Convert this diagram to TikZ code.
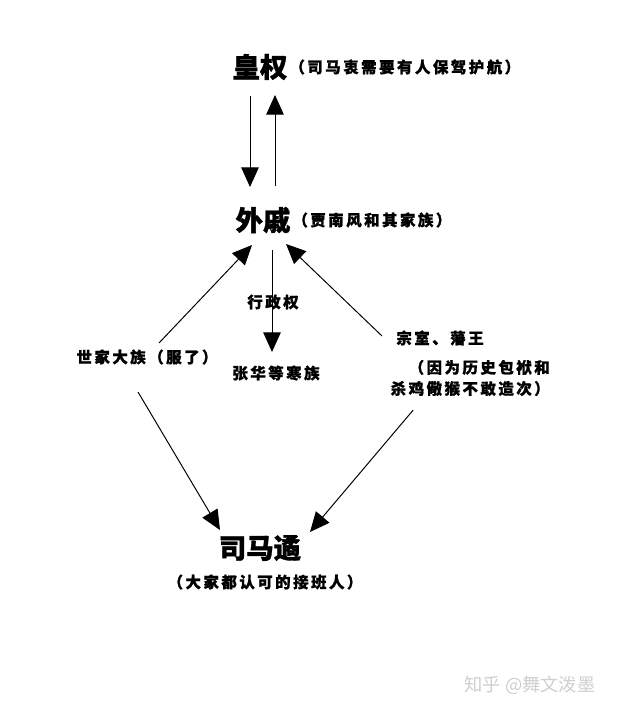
\documentclass[tikz,border=0pt]{standalone}
\usepackage{fontspec}
\setmainfont{Noto Sans CJK SC}[BoldFeatures={FakeBold=1.2}]
\newfontfamily\wide{Noto Sans CJK SC}[LetterSpace=16,BoldFeatures={FakeBold=1}]
\usepackage{tikz}
\usetikzlibrary{positioning,arrows.meta,calc}
\definecolor{wmark}{HTML}{CFCFCF}

\begin{document}
\begin{tikzpicture}[x=0.025cm,y=-0.025cm,every node/.style={inner sep=0pt}]
      \tikzstyle{ttl}=[font=\fontsize{19.5}{23}\selectfont\bfseries];
      \tikzstyle{lbl}=[font=\fontsize{11}{15}\selectfont\wide\bfseries];
      \tikzstyle{arr}=[-{Triangle[length=14pt,width=12.5pt]},line width=0.7pt];
      \fill[white] (0,0) rectangle (617,708);
      \node[ttl] (hq) at (260,67) {皇权};
      \node[lbl,right=1pt of hq] (hqnote) {（司马衷需要有人保驾护航）};
      \node[ttl] (wq) at (263,220) {外戚};
      \node[lbl,right=1pt of wq] (wqnote) {（贾南风和其家族）};
      \node[lbl] (xz) at (273,302) {行政权};
      \node[lbl] (hz) at (276,373) {张华等寒族};
      \node[lbl] (sj) at (147,357) {世家大族（服了）};
      \node[lbl] (zs) at (440,338) {宗室、藩王};
      \node[lbl,align=right,anchor=east] (zsnote) at (550,378)
           {（因为历史包袱和\\杀鸡儆猴不敢造次）};
      \node[ttl] (sm) at (260,548) {司马遹};
      \node[lbl] (smnote) at (265,582) {（大家都认可的接班人）};
      \node[font=\fontsize{13}{15}\selectfont,text=wmark] (wm) at (530,685) {知乎 @舞文泼墨};
      \draw[arr] ($(hq)+(-10,29)$) -- ($(wq)+(-13,-33)$);
      \draw[arr] ($(wq)+(12,-34)$) -- ($(hq)+(15,28)$);
      \draw[arr] ($(sj)+(12,-14)$) -- ($(wq)+(-11,25)$);
      \draw[arr] ($(wq)+(9,30)$) -- ($(hz)+(-4,-21)$);
      \draw[arr] ($(zs)+(-58,-2)$) -- ($(wq)+(23,24)$);
      \draw[arr] ($(sj)+(-9,35)$) -- ($(sm)+(-40,-18)$);
      \draw[arr] ($(zsnote)+(-57,32)$) -- ($(sm)+(50,-16)$);
    \end{tikzpicture}
\end{document}
